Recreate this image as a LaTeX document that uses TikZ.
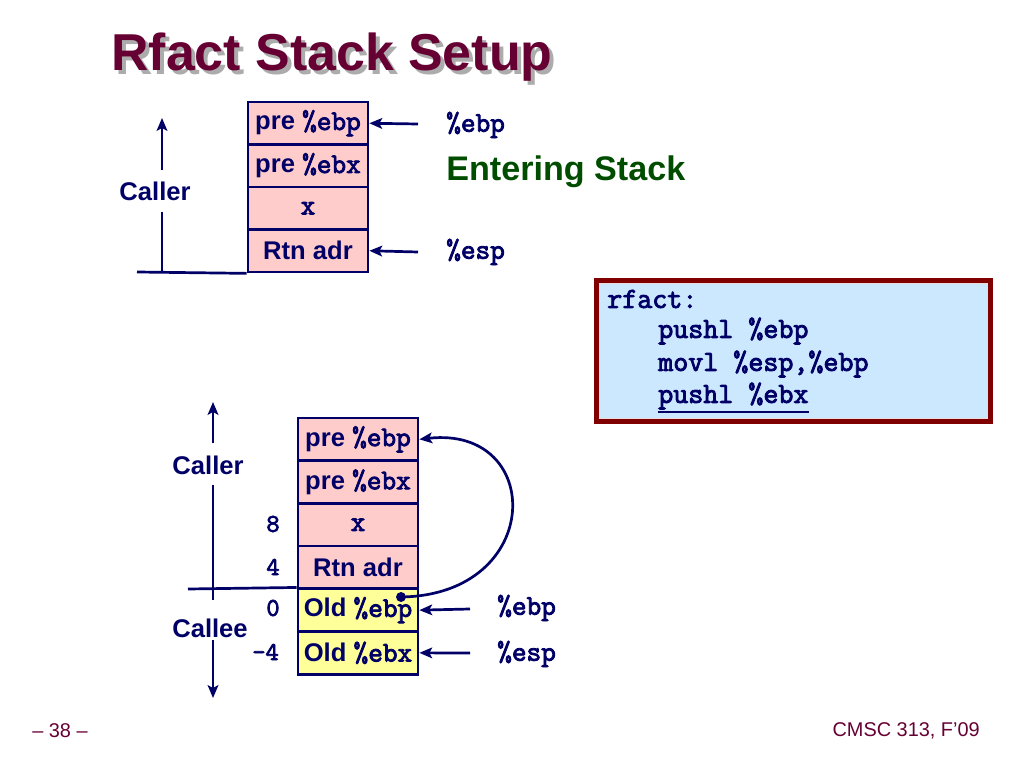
\documentclass[tikz,border=0pt]{standalone}
\usepackage{fontspec}
\setmainfont{Liberation Sans}
\newfontfamily\mono[FakeBold=3]{Latin Modern Mono}
\usetikzlibrary{arrows.meta}
\definecolor{navy}{RGB}{0,0,102}
\definecolor{pinkc}{RGB}{255,204,204}
\definecolor{yelc}{RGB}{255,255,153}
\definecolor{bluec}{RGB}{204,232,255}
\definecolor{maroon}{RGB}{128,0,0}
\definecolor{titlec}{RGB}{102,0,51}
\definecolor{greenc}{RGB}{0,77,0}
\newcommand{\mytt}[1]{{\mono\fontsize{20}{22}\selectfont #1}}
\begin{document}
\begin{tikzpicture}[x=0.703125pt,y=-0.703125pt,
  cell/.style={draw=navy,line width=1.9pt,minimum width=84.375pt,inner sep=0pt,
    text=navy,font=\bfseries\fontsize{18}{20}\selectfont},
  pinkcell/.style={cell,fill=pinkc},
  yelcell/.style={cell,fill=yelc},
  lbl/.style={text=navy,font=\bfseries\fontsize{18}{20}\selectfont},
  reg/.style={text=navy,font=\mono\fontsize{20}{22}\selectfont,anchor=west,inner sep=0pt},
  off/.style={text=navy,font=\mono\fontsize{18}{20}\selectfont,inner sep=0pt},
  code/.style={text=navy,font=\mono\fontsize{20.5}{22}\selectfont,anchor=west,inner sep=0pt},
  ln/.style={draw=navy,line width=1.9pt},
  arr/.style={ln,-{Stealth[length=9pt,width=7.5pt,inset=2pt]}}]
\useasboundingbox (0,0) rectangle (1024,768);
% title
\node[anchor=west,text=gray!65,font=\bfseries\fontsize{36.5}{40}\selectfont,inner sep=0pt] (titsh) at (115,61) {Rfact Stack Setup};
\node[anchor=west,text=titlec,font=\bfseries\fontsize{36.5}{40}\selectfont,inner sep=0pt] (tit) at (111,57) {Rfact Stack Setup};
% top stack
\begin{scope}[every node/.append style={minimum height=29.9pt}]
\node[pinkcell] (t1) at (308,123.25) {pre \mytt{\%ebp}};
\node[pinkcell] (t2) at (308,165.75) {pre \mytt{\%ebx}};
\node[pinkcell] (t3) at (308,208.25) {\mytt{x}};
\node[pinkcell] (t4) at (308,250.75) {Rtn adr};
\end{scope}
\coordinate (bl) at (137,272);
\draw[ln] (bl) -- (t4.south west);
\coordinate (ca1) at (162,272);
\coordinate (ca2) at (162,212);
\coordinate (ca3) at (162,170);
\coordinate (ca4) at (162,118);
\draw[ln] (ca1) -- (ca2);
\draw[arr] (ca3) -- (ca4);
\node[lbl] (caller1) at (155,191) {Caller};
\node[reg] (ebp1) at (446,125) {\%ebp};
\node[reg] (esp1) at (446,252) {\%esp};
\coordinate (a1) at (418,124);
\coordinate (a2) at (418,252);
\draw[arr] (a1) -- (t1.east);
\draw[arr] (a2) -- (t4.east);
\node[anchor=west,inner sep=0pt,text=greenc,font=\bfseries\fontsize{24}{28}\selectfont] (enter) at (446,172) {Entering Stack};
% code box
\fill[maroon] (594,278) rectangle (993,424);
\draw[fill=bluec,draw=white!85!maroon,line width=0.7pt] (599.5,283.5) rectangle (987.5,418.5);
\node[code] (c1) at (607,299) {rfact:};
\node[code] (c2) at (658,331) {pushl \%ebp};
\node[code] (c3) at (658,364) {movl \%esp,\%ebp};
\node[code] (c4) at (658,396) {pushl \%ebx};
\draw[navy,line width=1.4pt] ([yshift=-1.5pt]c4.south west) -- ([yshift=-1.5pt]c4.south east);
% lower stack
\begin{scope}[every node/.append style={minimum height=30pt}]
\node[pinkcell] (b1) at (358,439.35) {pre \mytt{\%ebp}};
\node[pinkcell] (b2) at (358,482.05) {pre \mytt{\%ebx}};
\node[pinkcell] (b3) at (358,524.75) {\mytt{x}};
\node[pinkcell] (b4) at (358,567.45) {Rtn adr};
\node[yelcell] (b5) at (358,610.15) {Old \mytt{\%ebp}};
\node[yelcell] (b6) at (358,652.85) {Old \mytt{\%ebx}};
\end{scope}
\coordinate (dv) at (188,589);
\draw[ln] (dv) -- (b5.north west);
\coordinate (v1) at (213,443);
\coordinate (v0) at (213,402);
\coordinate (v2) at (213,485);
\coordinate (v3) at (213,600);
\coordinate (v4) at (213,640);
\coordinate (v5) at (213,698);
\draw[arr] (v1) -- (v0);
\draw[ln] (v2) -- (v3);
\draw[arr] (v4) -- (v5);
\node[lbl] (caller2) at (208,465) {Caller};
\node[lbl] (callee) at (210,628) {Callee};
\node[off] (o8) at (273,524) {8};
\node[off] (o4) at (273,567) {4};
\node[off] (o0) at (273,608) {0};
\node[off,anchor=east] (om4) at (279,652) {-4};
\node[reg] (ebp2) at (497,608) {\%ebp};
\node[reg] (esp2) at (497,654) {\%esp};
\coordinate (a3) at (470,609);
\coordinate (a4) at (470,653);
\draw[arr] (a3) -- (b5.east);
\draw[arr] (a4) -- (b6.east);
\coordinate (dot) at (401,597);
\fill[navy] (dot) circle (3.5pt);
\draw[arr] (dot) .. controls (545,595) and (545,425) .. (b1.east);
% footer
\node[anchor=west,inner sep=0pt,text=titlec,font=\fontsize{14}{16}\selectfont] (pg) at (32,731) {– 38 –};
\node[anchor=east,inner sep=0pt,text=titlec,font=\fontsize{14}{16}\selectfont] (crs) at (980,731) {CMSC 313, F’09};
\end{tikzpicture}
\end{document}
